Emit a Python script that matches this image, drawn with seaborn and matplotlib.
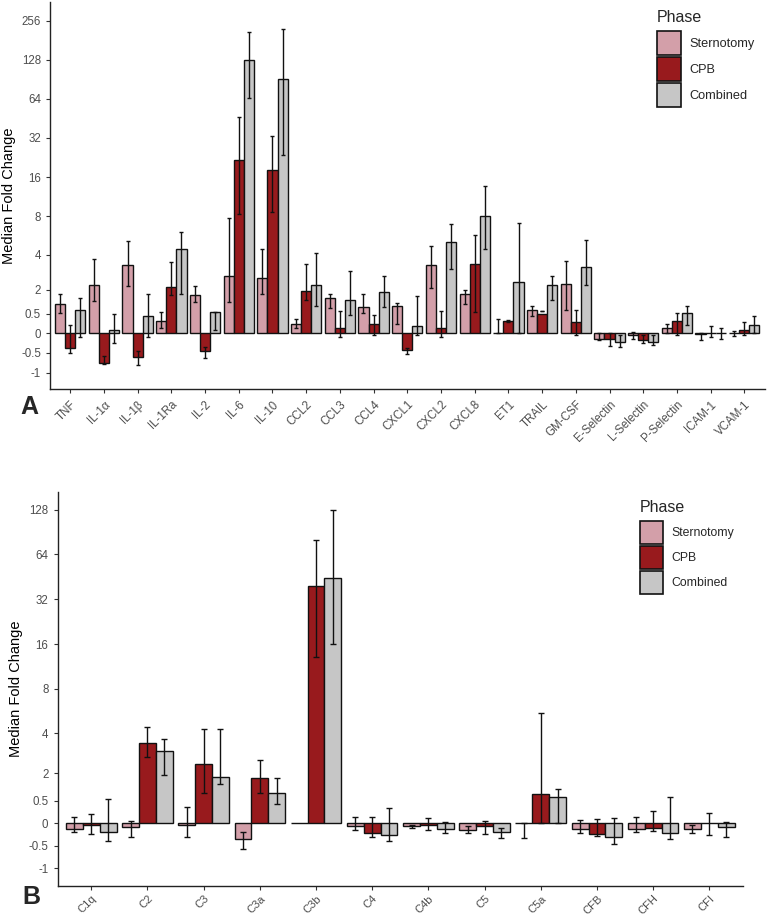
import numpy as np
import pandas as pd
import matplotlib
matplotlib.use("Agg")
import matplotlib.pyplot as plt
import matplotlib.patches as mpatches
import seaborn as sns

# --- Data (median fold change, lower / upper error) ---
phases = ["Sternotomy", "CPB", "Combined"]

cytokines = ["TNF", "IL-1α", "IL-1β", "IL-1Ra", "IL-2", "IL-6", "IL-10", "CCL2", "CCL3",
             "CCL4", "CXCL1", "CXCL2", "CXCL8", "ET1", "TRAIL", "GM-CSF", "E-Selectin",
             "L-Selectin", "P-Selectin", "ICAM-1", "VCAM-1"]
cyt_stern = [1.10, 2.21, 3.28, 0.31, 1.65, 2.60, 2.54, 0.24, 1.49, 0.93, 0.97, 3.24, 1.71,
             0.0, 0.77, 2.22, -0.13, -0.03, 0.14, -0.01, 0.0]
cyt_stern_lo = [0.56, 1.28, 2.13, 0.13, 1.24, 1.24, 1.71, 0.13, 0.89, 0.56, 0.25, 2.07, 1.10,
                0.0, 0.44, 0.73, -0.17, -0.15, 0.0, -0.17, -0.07]
cyt_stern_hi = [1.75, 3.69, 5.15, 0.60, 2.15, 7.7, 4.45, 0.36, 1.75, 1.75, 1.18, 4.72, 2.0,
                0.36, 0.97, 3.53, 0.0, 0.03, 0.24, 0.0, 0.06]
cyt_cpb = [-0.38, -0.76, -0.61, 2.11, -0.45, 21.5, 18.2, 1.90, 0.15, 0.24, -0.42, 0.14, 3.35,
           0.32, 0.52, 0.29, -0.14, -0.17, 0.32, 0.0, 0.10]
cyt_cpb_lo = [-0.51, -0.79, -0.82, 1.65, -0.64, 8.3, 8.6, 1.38, -0.09, -0.03, -0.53, -0.09, 0.62,
              0.30, 0.66, -0.05, -0.32, -0.25, -0.04, -0.09, -0.04]
cyt_cpb_hi = [0.21, -0.58, -0.44, 3.46, -0.34, 46.7, 33.4, 3.35, 0.66, 0.46, -0.37, 0.69, 5.73,
              0.34, 0.69, 0.73, 0.0, -0.04, 0.58, 0.19, 0.30]
cyt_comb = [0.73, 0.10, 0.45, 4.45, 0.62, 127, 90.8, 2.18, 1.34, 1.85, 0.19, 5.0, 8.0,
            2.33, 2.21, 3.17, -0.21, -0.21, 0.56, 0.0, 0.21]
cyt_comb_lo = [-0.09, -0.25, -0.09, 1.75, 0.10, 64.5, 23.8, 0.97, 0.47, 0.93, -0.03, 3.04, 4.45,
               0.0, 1.38, 2.18, -0.34, -0.30, 0.21, -0.13, 0.0]
cyt_comb_hi = [1.51, 0.49, 1.75, 6.07, 0.62, 211, 221, 4.1, 2.9, 2.62, 1.61, 7.0, 13.6,
               7.05, 2.64, 5.24, -0.05, -0.04, 0.97, 0.13, 0.44]

complement = ["C1q", "C2", "C3", "C3a", "C3b", "C4", "C4b", "C5", "C5a", "CFB", "CFH", "CFI"]
comp_stern = [-0.13, -0.09, -0.05, -0.36, 0.0, -0.06, -0.06, -0.15, 0.0, -0.13, -0.13, -0.13]
comp_stern_lo = [-0.20, -0.30, -0.30, -0.58, np.nan, -0.16, -0.11, -0.21, -0.34, -0.22, -0.19, -0.21]
comp_stern_hi = [0.15, 0.05, 0.36, -0.19, np.nan, 0.13, -0.03, -0.06, 0.0, 0.07, 0.15, -0.04]
comp_cpb = [-0.05, 3.40, 2.33, 1.76, 39.3, -0.21, -0.05, -0.06, 0.87, -0.25, -0.11, 0.0]
comp_cpb_lo = [-0.25, 2.66, 0.95, 0.95, 13.1, -0.31, -0.16, -0.25, 0.0, -0.28, -0.17, -0.27]
comp_cpb_hi = [0.21, 4.43, 4.3, 2.51, 80, 0.13, 0.12, 0.04, 5.45, 0.09, 0.28, 0.22]
comp_comb = [-0.19, 2.96, 1.79, 0.95, 44.4, -0.27, -0.12, -0.20, 0.73, -0.30, -0.22, -0.09]
comp_comb_lo = [-0.39, 1.88, 1.41, 0.42, 15.9, -0.39, -0.21, -0.34, 0.0, -0.46, -0.36, -0.31]
comp_comb_hi = [0.59, 3.6, 4.3, 1.74, 127, 0.33, 0.02, -0.10, 1.16, 0.12, 0.73, 0.02]

colors = ["#D39FA9", "#981A1D", "#C6C6C6"]

# --- Styling ---
sns.set_style("ticks")
plt.rcParams["font.family"] = ["Liberation Sans", "DejaVu Sans"]

# --- Custom y scale: linear near zero, log2 for large fold changes ---
KP = np.array([-3, -1, -0.5, 0, 0.5, 2, 3, 4, 5, 6, 7, 8, 9, 10, 11], dtype=float)
KU = np.array([-3, -1, -0.5, 0, 0.5, 1.12, 2.01, 3, 4, 5, 6, 7, 8, 9, 10], dtype=float)


def fwd(x):
    x = np.asarray(x, dtype=float)
    p = np.where(x <= 2, x, 1 + np.log2(np.maximum(x, 2)))
    return np.interp(p, KP, KU)


def inv(u):
    u = np.asarray(u, dtype=float)
    q = np.interp(u, KU, KP)
    return np.where(q <= 2, q, 2 ** (q - 1))


def draw_panel(ax, cats, vals, los, his, yticks, ylim, capsize, xpad):
    df = pd.DataFrame({
        "Marker": np.tile(cats, 3),
        "Phase": np.repeat(phases, len(cats)),
        "Value": np.concatenate(vals),
    })
    sns.barplot(data=df, x="Marker", y="Value", hue="Phase", order=cats, hue_order=phases,
                palette=colors, saturation=1, width=0.9, errorbar=None, edgecolor="#111111",
                linewidth=1.0, ax=ax, legend=False)
    ax.set_yscale("function", functions=(fwd, inv))
    offsets = [-0.3, 0.0, 0.3]
    xs = np.arange(len(cats))
    for k in range(3):
        lo = np.asarray(los[k], dtype=float)
        hi = np.asarray(his[k], dtype=float)
        ax.errorbar(xs + offsets[k], lo, yerr=[np.zeros_like(lo), hi - lo], fmt="none",
                    ecolor="#111111", elinewidth=1.0, capsize=capsize, capthick=1.0, zorder=5)
    ax.set_xlim(-0.6, len(cats) - 0.4)
    ax.set_ylim(*ylim)
    ax.set_yticks(yticks)
    ax.set_yticklabels([f"{t:g}" for t in yticks])
    ax.yaxis.set_minor_locator(matplotlib.ticker.NullLocator())
    ax.set_xticks(xs)
    ax.set_xticklabels(cats, rotation=45, ha="right", rotation_mode="anchor")
    ax.tick_params(axis="both", colors="#333333", labelcolor="#4D4D4D", labelsize=8.3,
                   length=3, width=0.8)
    ax.tick_params(axis="x", pad=xpad)
    ax.set_xlabel("")
    ax.set_ylabel("Median Fold Change", fontsize=10.5, color="black")
    for s in ["left", "bottom"]:
        ax.spines[s].set_linewidth(1.0)
        ax.spines[s].set_color("#222222")
    sns.despine(ax=ax)
    handles = [mpatches.Patch(facecolor=c, edgecolor="#111111", linewidth=1.2, label=p)
               for c, p in zip(colors, phases)]
    return handles


fig = plt.figure(figsize=(7.67, 9.18), dpi=100)
ax_a = fig.add_axes([0.0652, 0.5763, 0.9316, 0.4216])
ax_b = fig.add_axes([0.0750, 0.0349, 0.8938, 0.4295])

h = draw_panel(ax_a, cytokines, [cyt_stern, cyt_cpb, cyt_comb],
               [cyt_stern_lo, cyt_cpb_lo, cyt_comb_lo], [cyt_stern_hi, cyt_cpb_hi, cyt_comb_hi],
               [-1, -0.5, 0, 0.5, 2, 4, 8, 16, 32, 64, 128, 256], (-1.42, 357), 1.6, 4)
draw_panel(ax_b, complement, [comp_stern, comp_cpb, comp_comb],
           [comp_stern_lo, comp_cpb_lo, comp_comb_lo], [comp_stern_hi, comp_cpb_hi, comp_comb_hi],
           [-1, -0.5, 0, 0.5, 2, 4, 8, 16, 32, 64, 128], (-1.4, 169), 2.0, 2.5)
ax_b.tick_params(axis="x", labelsize=8)

for ax, anchor, fs in [(ax_a, (657 / 767, 1 - 10 / 918), 9.2),
                       (ax_b, (640 / 767, 1 - 500 / 918), 8.8)]:
    leg = ax.legend(handles=h, title="Phase", loc="upper left", bbox_to_anchor=anchor,
                    bbox_transform=fig.transFigure, frameon=False, fontsize=fs,
                    title_fontsize=11.5, handlelength=1.85, handleheight=2.55,
                    labelspacing=0.15, handletextpad=0.7, borderpad=0, borderaxespad=0,
                    alignment="left")
    leg._legend_box.sep = 4

fig.text(20 / 767, 1 - 414 / 918, "A", fontsize=18, fontweight="bold")
fig.text(22 / 767, 1 - 904 / 918, "B", fontsize=18, fontweight="bold")

fig.savefig("out.png", dpi=100)
